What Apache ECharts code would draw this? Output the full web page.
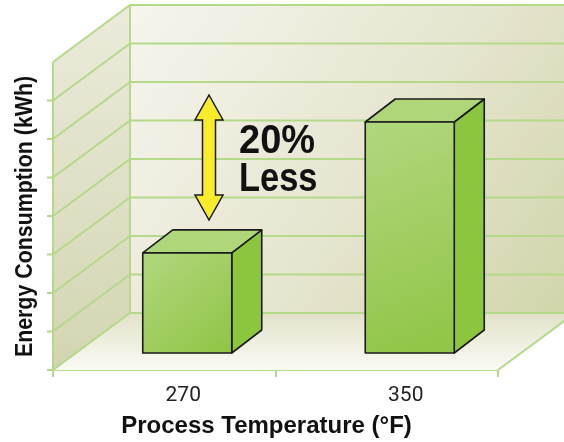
<!DOCTYPE html>
<html>
<head>
<meta charset="utf-8">
<style>
  html, body { margin: 0; padding: 0; background: #ffffff; }
  #chart { width: 564px; height: 442px; }
</style>
<script src="https://cdn.jsdelivr.net/npm/echarts@6/dist/echarts.min.js"></script>
</head>
<body>
<div id="chart"></div>
<script>
// Process temperatures and the energy each one uses (grid units)
const categories = ['270', '350'];
const energy = [2.6, 6.0];
const yMax = 8;
const gridValues = [0, 1, 2, 3, 4, 5, 6, 7, 8];
const tickValues = [0, 1, 2, 3, 4, 5, 6, 7];

// Perspective offsets (pixels): full room depth, front of the boxes, box depth
const DEPTH = { dx: 77, dy: -57 };
const BOX_FRONT = { dx: 23, dy: -17 };
const BOX_DEPTH = { dx: 30, dy: -23 };
const LINE_GREEN = '#b4d989';
const LABEL_FONT = 'Roboto, "Liberation Sans", sans-serif';
const TITLE_FONT = '"Liberation Sans", Arial, sans-serif';

const chart = echarts.init(document.getElementById('chart'), null, { renderer: 'canvas' });

function line(x1, y1, x2, y2, color, width) {
  return {
    type: 'line',
    shape: { x1: x1, y1: y1, x2: x2, y2: y2 },
    style: { stroke: color, lineWidth: width }
  };
}

// Walls, floor and gridlines of the 3-D room
function renderRoom(params, api) {
  const band = api.size([1, 0])[0];
  const first = api.coord([0, 0]);
  const last = api.coord([categories.length - 1, 0]);
  const x0 = first[0] - band / 2;
  const x1 = last[0] + band / 2;
  const y0 = first[1];
  const yTop = api.coord([0, yMax])[1];
  const W = api.getWidth();
  const bx = x0 + DEPTH.dx;
  const children = [];

  children.push({
    type: 'rect',
    shape: { x: bx, y: yTop + DEPTH.dy, width: W - bx, height: y0 - yTop },
    style: {
      fill: new echarts.graphic.LinearGradient(0, 0, 1, 1, [
        { offset: 0, color: '#f6f5ee' },
        { offset: 0.55, color: '#e6e5cf' },
        { offset: 1, color: '#d2d5ab' }
      ])
    }
  });
  children.push({
    type: 'polygon',
    shape: { points: [[x0, yTop], [bx, yTop + DEPTH.dy], [bx, y0 + DEPTH.dy], [x0, y0]] },
    style: {
      fill: new echarts.graphic.LinearGradient(0, 0, 0, 1, [
        { offset: 0, color: '#ecebdc' },
        { offset: 1, color: '#d3d5b1' }
      ])
    }
  });
  children.push({
    type: 'polygon',
    shape: { points: [[x0, y0], [x1, y0], [x1 + DEPTH.dx, y0 + DEPTH.dy], [bx, y0 + DEPTH.dy]] },
    style: {
      fill: new echarts.graphic.LinearGradient(0, 0, 0, 1, [
        { offset: 0, color: '#e2e2ca' },
        { offset: 1, color: '#fafaf5' }
      ])
    }
  });

  gridValues.forEach(function (v) {
    const y = api.coord([0, v])[1];
    children.push(line(bx, y + DEPTH.dy, W, y + DEPTH.dy, LINE_GREEN, 2));
    children.push(line(x0, y, bx, y + DEPTH.dy, LINE_GREEN, 2));
  });
  tickValues.forEach(function (v) {
    const y = api.coord([0, v])[1];
    children.push(line(x0 - 6, y, x0, y, LINE_GREEN, 2));
  });
  children.push(line(x0, y0, x0, yTop, LINE_GREEN, 2));
  children.push(line(bx, y0 + DEPTH.dy, bx, yTop + DEPTH.dy, LINE_GREEN, 2));
  children.push(line(x1, y0, x1 + DEPTH.dx, y0 + DEPTH.dy, LINE_GREEN, 2));

  return { type: 'group', children: children };
}

// One shaded box per temperature
function renderBox(params, api) {
  const idx = api.value(0);
  const base = api.coord([idx, 0]);
  const top = api.coord([idx, api.value(1)]);
  const w = api.size([1, 0])[0] * 0.4;
  const xl = base[0] - w / 2 + BOX_FRONT.dx;
  const xr = xl + w;
  const yb = base[1] + BOX_FRONT.dy;
  const yt = top[1] + BOX_FRONT.dy;
  const ddx = BOX_DEPTH.dx, ddy = BOX_DEPTH.dy;
  const edge = { stroke: '#1b1b1b', lineWidth: 1.6, lineJoin: 'round' };

  return {
    type: 'group',
    children: [
      {
        type: 'polygon',
        shape: { points: [[xr, yt], [xr + ddx, yt + ddy], [xr + ddx, yb + ddy], [xr, yb]] },
        style: Object.assign({ fill: '#8cc63f' }, edge)
      },
      {
        type: 'polygon',
        shape: { points: [[xl, yt], [xr, yt], [xr + ddx, yt + ddy], [xl + ddx, yt + ddy]] },
        style: Object.assign({ fill: '#b0d67a' }, edge)
      },
      {
        type: 'rect',
        shape: { x: xl, y: yt, width: w, height: yb - yt },
        style: Object.assign({
          fill: new echarts.graphic.LinearGradient(0, 0, 1, 1, [
            { offset: 0, color: '#b2d77e' },
            { offset: 1, color: '#8fc545' }
          ])
        }, edge)
      }
    ]
  };
}

chart.setOption({
  backgroundColor: '#ffffff',
  animation: false,
  grid: { left: 53, right: 66, top: 62, bottom: 72, outerBoundsMode: 'none' },
  xAxis: {
    type: 'category',
    data: categories,
    boundaryGap: true,
    axisLine: { show: true, lineStyle: { color: LINE_GREEN, width: 2 } },
    axisTick: { show: true, length: 7, lineStyle: { color: LINE_GREEN, width: 2 } },
    axisLabel: {
      margin: 15,
      padding: [0, 0, 0, 38],
      fontFamily: LABEL_FONT,
      fontSize: 21,
      color: '#222222'
    },
    name: 'Process Temperature (°F)',
    nameLocation: 'middle',
    nameGap: 44,
    nameTextStyle: {
      fontFamily: TITLE_FONT,
      fontWeight: 'bold',
      fontSize: 24,
      color: '#111111',
      padding: [0, 18, 0, 0]
    }
  },
  yAxis: {
    type: 'value',
    min: 0,
    max: yMax,
    interval: 1,
    axisLine: { show: false },
    axisTick: { show: false },
    axisLabel: { show: false },
    splitLine: { show: false }
  },
  graphic: [
    {
      // vertical axis title, condensed along its length
      type: 'text',
      x: 25.5,
      y: 216.5,
      rotation: Math.PI / 2,
      scaleX: 0.89,
      style: {
        text: 'Energy Consumption (kWh)',
        font: 'bold 24px ' + TITLE_FONT,
        fill: '#111111',
        align: 'center',
        verticalAlign: 'middle'
      }
    },
    {
      type: 'polygon',
      z: 10,
      shape: {
        points: [[209, 95], [223, 120], [215.5, 120], [215.5, 195], [223, 195],
                 [209, 220], [195, 195], [202.5, 195], [202.5, 120], [195, 120]]
      },
      style: { fill: '#f8ec2b', stroke: '#1b1b1b', lineWidth: 1.5 }
    },
    {
      type: 'text',
      z: 10,
      x: 239,
      y: 141.5,
      scaleX: 0.95,
      style: {
        text: '20%',
        font: 'bold 40px ' + TITLE_FONT,
        fill: '#111111',
        verticalAlign: 'middle'
      }
    },
    {
      type: 'text',
      z: 10,
      x: 239,
      y: 180,
      scaleX: 0.86,
      style: {
        text: 'Less',
        font: 'bold 40px ' + TITLE_FONT,
        fill: '#111111',
        verticalAlign: 'middle'
      }
    }
  ],
  series: [
    {
      type: 'custom',
      name: 'room',
      z: 1,
      silent: true,
      renderItem: renderRoom,
      data: [[0, 0]]
    },
    {
      type: 'custom',
      name: 'Energy',
      z: 2,
      renderItem: renderBox,
      encode: { x: 0, y: 1 },
      data: categories.map(function (c, i) { return [i, energy[i]]; })
    }
  ]
});
</script>
</body>
</html>
